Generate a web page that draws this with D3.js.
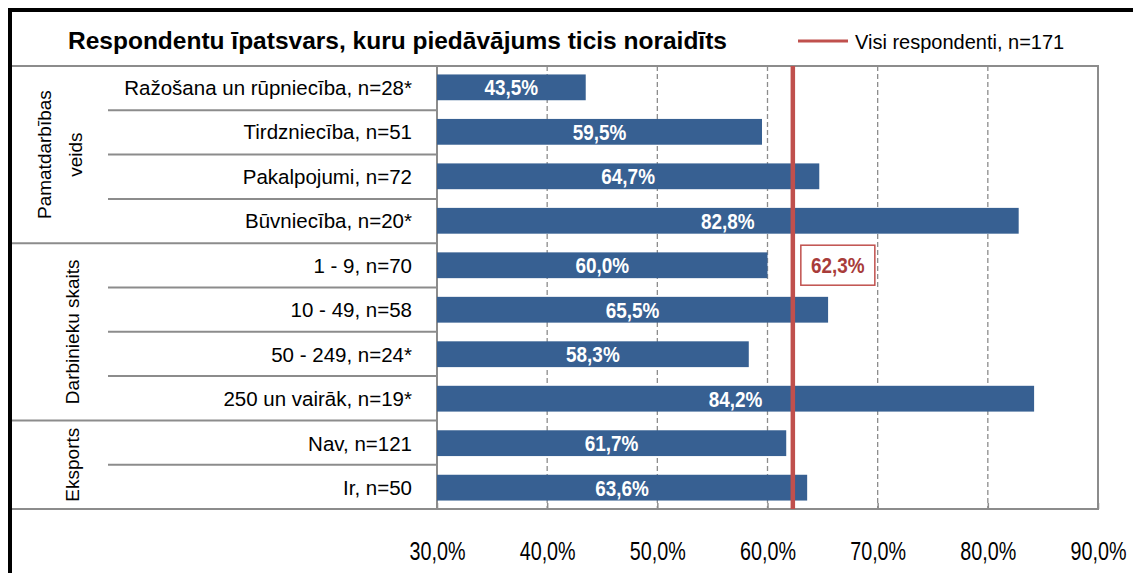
<!DOCTYPE html>
<html>
<head>
<meta charset="utf-8">
<script src="https://cdn.jsdelivr.net/npm/d3@7"></script>
<style>
body { margin:0; background:#fff; }
svg text { font-family: "Liberation Sans", Arial, sans-serif; }
.title { font-weight:bold; font-size:24.5px; }
.cat { font-size:20.5px; fill:#000; }
.grp { font-size:19px; fill:#000; }
.val { font-size:22px; font-weight:bold; fill:#fff; }
</style>
</head>
<body>
<svg id="chart"></svg>
<script>
var categories = ["Ražošana un rūpniecība,  n=28*", "Tirdzniecība, n=51", "Pakalpojumi,  n=72", "Būvniecība, n=20*",
    "1 - 9, n=70", "10 - 49, n=58", "50 - 249, n=24*", "250 un vairāk,  n=19*",
    "Nav, n=121", "Ir, n=50"]
var values = [43.5, 59.5, 64.7, 82.8, 60.0, 65.5, 58.3, 84.2, 61.7, 63.6]
var groups = [["Pamatdarbības", "veids"], ["Darbinieku skaits"], ["Eksports"]]
var groupSizes = [4, 4, 2]
var allValue = 62.3
var xTicks = [30, 40, 50, 60, 70, 80, 90]

var fmt = function(v) { return d3.format(".1f")(v).replace(".", ",") + "%" }

var screen = {width:1133, height:573}
var plot = {left:437, right:1098, top:66, bottom:509}

var svg = d3.select("#chart")
    .attr("width", screen.width)
    .attr("height", screen.height)

var xScale = d3.scaleLinear()
    .domain([30, 90])
    .range([plot.left, plot.right])

var yScale = d3.scaleBand()
    .domain(categories)
    .range([plot.top, plot.bottom])
    .paddingInner(0.42)
    .paddingOuter(0.19)

var rowH = (plot.bottom - plot.top) / categories.length

// outer frame
svg.append("line").attr("x1", 10).attr("x2", screen.width).attr("y1", 10).attr("y2", 10)
    .attr("stroke", "#000").attr("stroke-width", 4)
svg.append("line").attr("x1", 10).attr("x2", 10).attr("y1", 8).attr("y2", screen.height)
    .attr("stroke", "#000").attr("stroke-width", 4)

// title
svg.append("text").attr("class", "title")
    .attr("x", 68).attr("y", 49)
    .text("Respondentu īpatsvars, kuru piedāvājums ticis noraidīts")

// legend
svg.append("line").attr("x1", 798).attr("x2", 848).attr("y1", 41).attr("y2", 41)
    .attr("stroke", "#c0504d").attr("stroke-width", 3)
svg.append("text").attr("class", "cat")
    .attr("x", 855).attr("y", 49)
    .style("font-size", "20px")
    .text("Visi respondenti, n=171")

// gridlines
svg.append("g").selectAll("line")
    .data(xTicks.slice(1, -1))
    .enter().append("line")
    .attr("x1", function(d) { return xScale(d) })
    .attr("x2", function(d) { return xScale(d) })
    .attr("y1", plot.top).attr("y2", plot.bottom)
    .attr("stroke", "#8c8c8c").attr("stroke-width", 1.3)
    .attr("stroke-dasharray", "5,3")

// plot frame
svg.append("rect")
    .attr("x", plot.left).attr("y", plot.top)
    .attr("width", plot.right - plot.left).attr("height", plot.bottom - plot.top)
    .attr("fill", "none").attr("stroke", "#8c8c8c").attr("stroke-width", 2)

// row separators in label area
var groupStarts = [0]
groupSizes.forEach(function(s, i) { groupStarts.push(groupStarts[i] + s) })
svg.append("g").selectAll("line")
    .data(d3.range(0, categories.length + 1))
    .enter().append("line")
    .attr("x1", function(i) { return groupStarts.indexOf(i) >= 0 ? 12 : 108 })
    .attr("x2", plot.left)
    .attr("y1", function(i) { return plot.top + i * rowH })
    .attr("y2", function(i) { return plot.top + i * rowH })
    .attr("stroke", "#8c8c8c").attr("stroke-width", 2)

// bars
svg.append("g").selectAll("rect")
    .data(values)
    .enter().append("rect")
    .attr("x", xScale(30))
    .attr("y", function(d, i) { return yScale(categories[i]) })
    .attr("width", function(d) { return xScale(d) - xScale(30) })
    .attr("height", yScale.bandwidth())
    .attr("fill", "#376092")

// bottom axis ticks (inside)
var xAxis = d3.axisBottom(xScale).tickValues(xTicks).tickSize(-6).tickPadding(33)
    .tickFormat(fmt)
var ax = svg.append("g")
    .attr("transform", "translate(0," + plot.bottom + ")")
    .call(xAxis)
ax.select(".domain").remove()
ax.selectAll(".tick line").attr("stroke", "#8c8c8c").attr("stroke-width", 1.5)
ax.selectAll(".tick text").attr("fill", "#000")
    .style("font-family", "'Liberation Sans', Arial, sans-serif")
    .style("font-size", "25px")
    .attr("transform", "scale(0.79,1)")

// value labels (condensed)
svg.append("g").selectAll("text")
    .data(values)
    .enter().append("text")
    .attr("class", "val")
    .attr("text-anchor", "middle")
    .attr("transform", function(d, i) {
        var cx = (xScale(30) + xScale(d)) / 2
        var cy = yScale(categories[i]) + yScale.bandwidth() / 2 + 8
        return "translate(" + cx + "," + cy + ") scale(0.86,1)"
    })
    .text(function(d) { return fmt(d) })

// category labels
svg.append("g").selectAll("text")
    .data(categories)
    .enter().append("text")
    .attr("class", "cat")
    .attr("text-anchor", "end")
    .attr("x", 412)
    .attr("y", function(d) { return yScale(d) + yScale.bandwidth() / 2 + 7.5 })
    .text(function(d) { return d })

// group labels
groups.forEach(function(g, i) {
    var cy = plot.top + (groupStarts[i] + groupSizes[i] / 2) * rowH
    var lines = g.length
    var t = svg.append("text").attr("class", "grp")
        .attr("text-anchor", "middle")
        .attr("transform", "translate(" + (lines > 1 ? 59 : 72) + "," + cy + ") rotate(-90)")
    g.forEach(function(l, j) {
        t.append("tspan").attr("x", 0)
            .attr("y", 7 + (j - (lines - 1) / 2) * 31)
            .text(l)
    })
})

// all respondents line
svg.append("line")
    .attr("x1", xScale(allValue)).attr("x2", xScale(allValue))
    .attr("y1", plot.top).attr("y2", plot.bottom)
    .attr("stroke", "#c0504d").attr("stroke-width", 4.5)

// annotation box
var bx = xScale(allValue) + 8
var by = plot.top + 4 * rowH + 2
svg.append("rect").attr("x", bx).attr("y", by).attr("width", 74).attr("height", 40)
    .attr("fill", "#fff").attr("stroke", "#c0504d").attr("stroke-width", 1.5)
svg.append("text")
    .attr("transform", "translate(" + (bx + 37) + "," + (by + 28) + ") scale(0.86,1)")
    .attr("text-anchor", "middle")
    .style("font-size", "22px").style("font-weight", "bold").attr("fill", "#a83c3a")
    .text(fmt(allValue))
</script>
</body>
</html>
